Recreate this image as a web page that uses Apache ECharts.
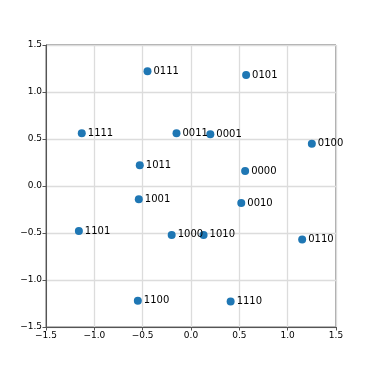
<!DOCTYPE html>
<html>
<head>
<meta charset="utf-8">
<script src="https://cdn.jsdelivr.net/npm/echarts@6/dist/echarts.min.js"></script>
<style>
  html, body { margin: 0; padding: 0; background: #fff; }
  #chart { width: 374px; height: 374px; }
</style>
</head>
<body>
<div id="chart"></div>
<script>
(function(){
  var codes = ['0111','0101','1111','0011','0001','0100','1011','0000',
               '1001','0010','1101','1000','1010','0110','1100','1110'];
  var xs = [-0.45, 0.57, -1.13, -0.15, 0.20, 1.25, -0.53, 0.56,
            -0.54, 0.52, -1.16, -0.20, 0.13, 1.15, -0.55, 0.41];
  var ys = [1.22, 1.18, 0.56, 0.56, 0.55, 0.45, 0.22, 0.16,
            -0.14, -0.18, -0.48, -0.52, -0.52, -0.57, -1.22, -1.23];

  var pts = [];
  for (var i = 0; i < codes.length; i++) {
    pts.push({ name: codes[i], value: [xs[i], ys[i]] });
  }

  function fmt(v) {
    var s = v.toFixed(1);
    return s.replace('-', '\u2212');
  }

  var axisCommon = {
    type: 'value',
    min: -1.5,
    max: 1.5,
    interval: 0.5,
    axisLine: { show: true, onZero: false, lineStyle: { color: '#555', width: 1 } },
    axisTick: { show: true, length: 3.5, lineStyle: { color: '#555' } },
    axisLabel: { color: '#000', fontSize: 9, fontFamily: 'DejaVu Sans', formatter: fmt, margin: 4 },
    splitLine: { show: true, lineStyle: { color: '#dcdcdc', width: 1.3 } }
  };

  var myChart = echarts.init(document.getElementById('chart'));
  var option = {
    backgroundColor: '#fff',
    animation: false,
    grid: {
      left: 46, right: 38, top: 45, bottom: 47,
      show: true, borderColor: '#555', borderWidth: 1, backgroundColor: 'transparent'
    },
    xAxis: Object.assign({}, axisCommon),
    yAxis: Object.assign({}, axisCommon),
    series: [{
      type: 'scatter',
      symbolSize: 8,
      itemStyle: { color: '#1f77b4', opacity: 1 },
      label: {
        show: true,
        position: 'right',
        distance: 2,
        formatter: '{b}',
        color: '#000',
        fontSize: 10,
        fontFamily: 'DejaVu Sans'
      },
      data: pts
    }]
  };
  myChart.setOption(option);
})();
</script>
</body>
</html>
